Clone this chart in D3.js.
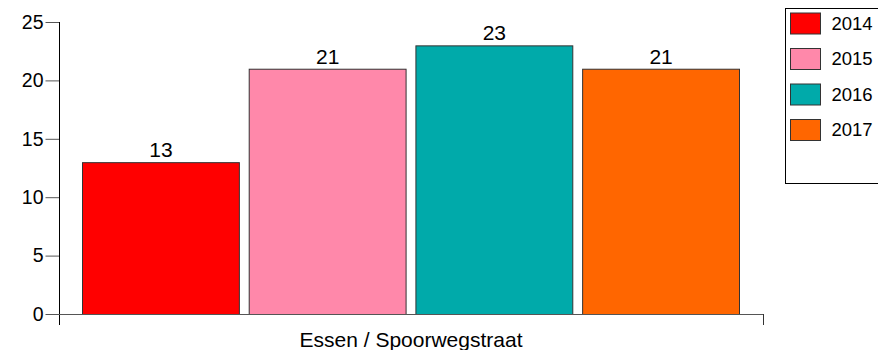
<!DOCTYPE html>
<html>
<head>
<meta charset="utf-8">
<script src="https://cdn.jsdelivr.net/npm/d3@7"></script>
<style>
  html, body { margin: 0; padding: 0; background: #fff; }
  svg { display: block; font-family: "Liberation Sans", Arial, sans-serif; }
</style>
</head>
<body>
<svg id="chart" width="878" height="350"></svg>
<script>
// Annual counts for one location
const category = "Essen / Spoorwegstraat";
const years = ["2014", "2015", "2016", "2017"];
const values = [13, 21, 23, 21];
const colors = ["#ff0000", "#ff88aa", "#00aaaa", "#ff6600"];
const yTicks = [0, 5, 10, 15, 20, 25];

const svg = d3.select("#chart");
const plotLeft = 59, plotRight = 763, plotTop = 22, plotBase = 314;

const y = d3.scaleLinear().domain([0, 25]).range([plotBase, plotTop]);
const x = d3.scaleBand().domain(years).range([82, 740]).paddingInner(0.053);

// Bars
svg.append("g").selectAll("rect").data(values).join("rect")
  .attr("x", (d, i) => x(years[i]) + 0.5)
  .attr("y", d => y(d) + 0.5)
  .attr("width", x.bandwidth() - 1)
  .attr("height", d => plotBase - y(d))
  .attr("fill", (d, i) => colors[i])
  .attr("stroke", "#333")
  .attr("stroke-width", 1);

// Value labels
svg.append("g").selectAll("text").data(values).join("text")
  .attr("x", (d, i) => x(years[i]) + x.bandwidth() / 2)
  .attr("y", d => y(d) - 5)
  .attr("text-anchor", "middle")
  .attr("font-size", 21)
  .attr("fill", "#000")
  .text(d => d);

// Y axis
const yAxis = d3.axisLeft(y).tickValues(yTicks).tickSize(14).tickPadding(2);
const gy = svg.append("g").attr("transform", `translate(${plotLeft + 0.5},0)`).call(yAxis);
gy.select(".domain").remove();
gy.selectAll(".tick line").attr("stroke", "#555");
gy.selectAll(".tick text").attr("font-size", 19.5).attr("fill", "#000")
  .attr("font-family", "Liberation Sans, Arial, sans-serif");
svg.append("line").attr("x1", plotLeft + 0.5).attr("x2", plotLeft + 0.5)
  .attr("y1", plotTop).attr("y2", 325).attr("stroke", "#000");

// Baseline and x-axis end mark
svg.append("line").attr("x1", plotLeft).attr("x2", plotRight + 0.5)
  .attr("y1", plotBase + 0.5).attr("y2", plotBase + 0.5).attr("stroke", "#555");
svg.append("line").attr("x1", plotRight + 0.5).attr("x2", plotRight + 0.5)
  .attr("y1", plotBase).attr("y2", 325).attr("stroke", "#333");

// Category label
svg.append("text").attr("x", (plotLeft + plotRight) / 2).attr("y", 347)
  .attr("text-anchor", "middle").attr("font-size", 21).attr("fill", "#000")
  .text(category);

// Legend
const lg = svg.append("g");
lg.append("rect").attr("x", 785.5).attr("y", 8.5).attr("width", 120).attr("height", 175)
  .attr("fill", "#fff").attr("stroke", "#000");
years.forEach((yr, i) => {
  const yy = 12.5 + i * 35.5;
  lg.append("rect").attr("x", 790.5).attr("y", yy + 0.5).attr("width", 30).attr("height", 21)
    .attr("fill", colors[i]).attr("stroke", "#333");
  lg.append("text").attr("x", 831.5).attr("y", yy + 17).attr("font-size", 18.5)
    .attr("fill", "#000").text(yr);
});
</script>
</body>
</html>
